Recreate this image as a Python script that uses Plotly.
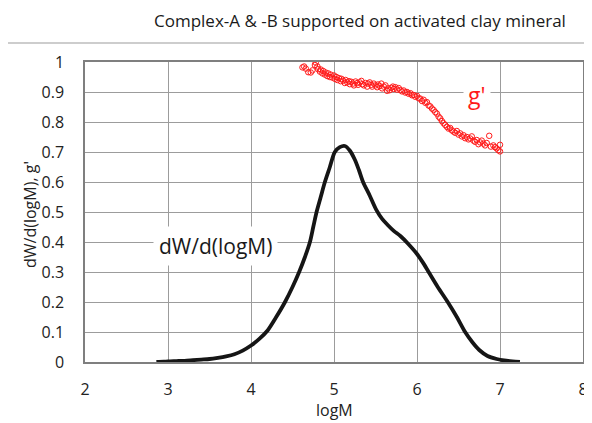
import plotly.graph_objects as go

# dW/d(logM) curve
curve_logM = [2.86, 2.95, 3.0, 3.1, 3.2, 3.3, 3.4, 3.5, 3.6, 3.7, 3.8, 3.9, 4.0, 4.1, 4.2, 4.3,
              4.41, 4.5, 4.58, 4.65, 4.71, 4.75, 4.79, 4.84, 4.89, 4.95, 5.01, 5.07, 5.13, 5.19,
              5.25, 5.30, 5.35, 5.43, 5.51, 5.58, 5.65, 5.72, 5.80, 5.89, 6.0, 6.07, 6.14, 6.25,
              6.37, 6.48, 6.58, 6.67, 6.75, 6.85, 6.96, 7.05, 7.15, 7.24]
curve_dW = [0.0, 0.001, 0.002, 0.003, 0.004, 0.006, 0.008, 0.010, 0.014, 0.019, 0.026, 0.038, 0.055, 0.077, 0.105, 0.148,
            0.20, 0.25, 0.30, 0.35, 0.40, 0.45, 0.50, 0.55, 0.60, 0.65, 0.70, 0.716, 0.72, 0.705,
            0.675, 0.64, 0.60, 0.555, 0.507, 0.477, 0.456, 0.437, 0.42, 0.395, 0.36, 0.332, 0.30, 0.25,
            0.20, 0.15, 0.10, 0.065, 0.04, 0.02, 0.01, 0.005, 0.002, 0.0]

# g' scatter
g_logM = [4.62, 4.64, 4.66, 4.69, 4.72, 4.74, 4.77, 4.78, 4.80, 4.81,
          4.83, 4.84, 4.86, 4.87, 4.89, 4.90, 4.92, 4.93, 4.95, 4.96,
          4.98, 5.00, 5.01, 5.03, 5.04, 5.06, 5.08, 5.09, 5.11, 5.13,
          5.14, 5.16, 5.18, 5.19, 5.21, 5.23, 5.24, 5.26, 5.28, 5.29,
          5.31, 5.33, 5.34, 5.36, 5.38, 5.40, 5.41, 5.43, 5.45, 5.46,
          5.48, 5.50, 5.52, 5.53, 5.55, 5.57, 5.58, 5.60, 5.62, 5.64,
          5.65, 5.67, 5.69, 5.71, 5.72, 5.74, 5.76, 5.78, 5.80, 5.82,
          5.84, 5.86, 5.88, 5.90, 5.92, 5.94, 5.96, 5.98, 6.00, 6.02,
          6.04, 6.06, 6.08, 6.10, 6.12, 6.14, 6.16, 6.18, 6.20, 6.22,
          6.24, 6.26, 6.28, 6.30, 6.32, 6.34, 6.36, 6.38, 6.40, 6.42,
          6.44, 6.46, 6.48, 6.50, 6.52, 6.54, 6.56, 6.58, 6.60, 6.62,
          6.64, 6.66, 6.68, 6.70, 6.72, 6.74, 6.76, 6.78, 6.80, 6.82,
          6.84, 6.87, 6.89, 6.92, 6.94, 6.96, 6.98, 7.00, 7.00]
g_val = [0.982, 0.985, 0.978, 0.966, 0.965, 0.972, 0.990, 0.998, 0.985, 0.976,
         0.968, 0.975, 0.962, 0.970, 0.958, 0.965, 0.953, 0.962, 0.950, 0.958,
         0.948, 0.955, 0.944, 0.950, 0.940, 0.946, 0.936, 0.944, 0.938, 0.930,
         0.940, 0.932, 0.936, 0.926, 0.934, 0.928, 0.922, 0.935, 0.930, 0.924,
         0.932, 0.937, 0.926, 0.922, 0.930, 0.918, 0.928, 0.932, 0.924, 0.918,
         0.928, 0.922, 0.916, 0.925, 0.920, 0.928, 0.912, 0.918, 0.922, 0.904,
         0.912, 0.906, 0.914, 0.918, 0.910, 0.916, 0.908, 0.913, 0.906, 0.902,
         0.905, 0.898, 0.900, 0.894, 0.896, 0.889, 0.890, 0.884, 0.887, 0.879,
         0.878, 0.870, 0.874, 0.864, 0.866, 0.855, 0.852, 0.845, 0.840, 0.833,
         0.828, 0.818, 0.812, 0.803, 0.796, 0.790, 0.784, 0.778, 0.780, 0.772,
         0.768, 0.764, 0.770, 0.758, 0.762, 0.752, 0.756, 0.746, 0.750, 0.742,
         0.745, 0.752, 0.738, 0.734, 0.740, 0.726, 0.732, 0.738, 0.728, 0.722,
         0.730, 0.754, 0.718, 0.722, 0.716, 0.712, 0.706, 0.702, 0.724]

title_text = "Complex-A & -B supported on activated clay mineral"
x_title = "logM"
y_title = "dW/d(logM), g'"

FONT = "Open Sans"
OFF = 8  # page body margin offset
W, H = 592 - OFF, 423 - OFF
L, R, T, B = 85 - OFF, 9, 62 - OFF, 61
PW, PH = W - L - R, H - T - B


def px(xs):
    # screen x pixel -> paper fraction
    return (xs - OFF - L) / PW


def py(ys):
    # screen y pixel -> paper fraction
    return (H - B - (ys - OFF)) / PH


fig = go.Figure()
fig.add_trace(go.Scatter(
    x=curve_logM, y=curve_dW, mode="lines",
    line=dict(color="#151515", width=3.8, shape="spline", smoothing=0.8),
    showlegend=False, hoverinfo="skip"))
fig.add_trace(go.Scatter(
    x=g_logM, y=g_val, mode="markers",
    marker=dict(symbol="circle-open", size=5.5, color="#ff1a1a", line=dict(width=1)),
    showlegend=False, hoverinfo="skip"))

fig.update_layout(
    width=W, height=H,
    margin=dict(l=L, r=R, t=T, b=B, autoexpand=False),
    paper_bgcolor="white", plot_bgcolor="white",
    font=dict(family=FONT, size=16, color="#222"),
    shapes=[dict(type="line", xref="paper", yref="paper", x0=px(3), x1=px(600),
                 y0=py(43), y1=py(43), line=dict(color="#bdbdbd", width=1.5))],
    annotations=[
        dict(x=3.57, y=0.386, xref="x", yref="y", text="dW/d(logM)", showarrow=False,
             font=dict(family=FONT, size=21, color="#1a1a1a"), bgcolor="white", borderpad=5),
        dict(x=6.72, y=0.89, xref="x", yref="y", text="g'", showarrow=False,
             font=dict(family=FONT, size=23, color="#ff1a1a"), bgcolor="white", borderpad=4),
        dict(x=px(360), y=py(8), xref="paper", yref="paper", xanchor="center", yanchor="top",
             text=title_text, showarrow=False, borderpad=0,
             font=dict(family=FONT, size=17, color="#1a1a1a")),
        dict(x=px(334), y=py(410), xref="paper", yref="paper", xanchor="center", yanchor="middle",
             text=x_title, showarrow=False,
             font=dict(family=FONT, size=16, color="#222")),
        dict(x=px(30), y=py(215), xref="paper", yref="paper", xanchor="center", yanchor="middle",
             text=y_title, showarrow=False, textangle=-90,
             font=dict(family=FONT, size=16, color="#222")),
    ],
)
fig.update_xaxes(range=[2, 8], dtick=1, tick0=2, showgrid=True, gridcolor="#9c9c9c", gridwidth=1,
                 zeroline=False, showline=True, linecolor="#7f7f7f", linewidth=1.5, mirror=True,
                 ticks="", ticklabelstandoff=12, automargin=False, ticklabeloverflow="allow",
                 tickfont=dict(family=FONT, size=16, color="#222"))
fig.update_yaxes(range=[0, 1], dtick=0.1, tick0=0, showgrid=True, gridcolor="#9c9c9c", gridwidth=1,
                 zeroline=False, showline=True, linecolor="#7f7f7f", linewidth=1.5, mirror=True,
                 ticks="", ticklabelstandoff=16, automargin=False,
                 tickfont=dict(family=FONT, size=16, color="#222"))

fig.write_html("out.html")
